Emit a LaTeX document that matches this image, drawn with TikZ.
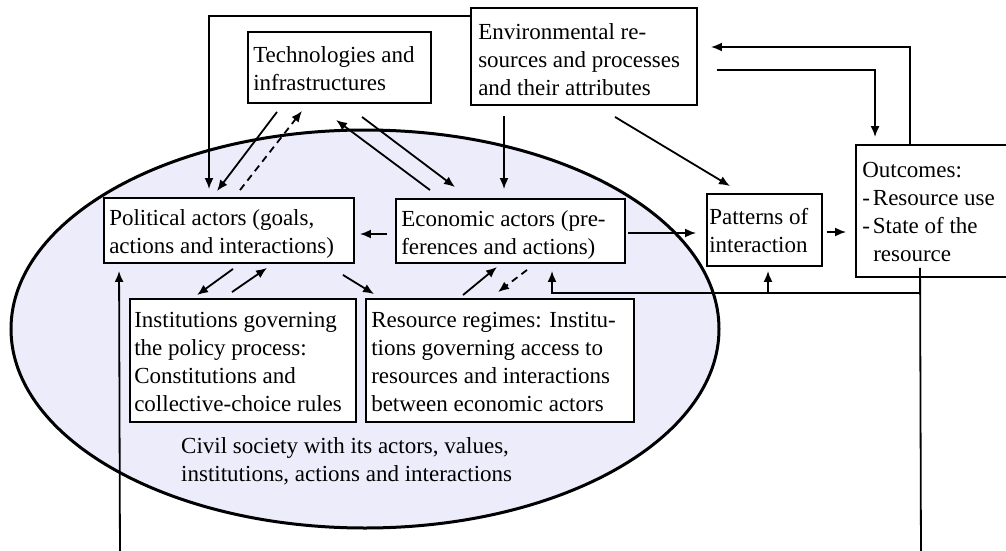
\documentclass[tikz,border=0pt]{standalone}
\usepackage{fontspec}
\setmainfont{Liberation Serif}
\usetikzlibrary{arrows.meta,calc}
\definecolor{civil}{RGB}{236,236,250}
\begin{document}
\begin{tikzpicture}[x=1pt,y=-1pt,
  box/.style={draw, line width=1.9pt, fill=white, inner sep=0pt},
  txt/.style={font=\fontsize{23}{28}\selectfont, align=left, inner sep=0pt, anchor=west},
  arr/.style={line width=1.8pt, -{Latex[length=11pt,width=9pt]}},
  ln/.style={line width=1.8pt},
  ]
\clip (0,0) rectangle (1006,551);
\draw[line width=3pt, fill=civil] (365,329) ellipse [x radius=354, y radius=199];

% boxes
\node[box, minimum width=226pt, minimum height=97pt] (env) at (584,56.5) {};
\node[txt] (env-t) at ($(env.west)+(8,3)$) {Environmental re-\\sources and processes\\and their attributes};
\node[box, minimum width=183pt, minimum height=71pt] (tech) at (339.5,67.5) {};
\node[txt] (tech-t) at ($(tech.west)+(6,1)$) {Technologies and\\infrastructures};
\node[box, minimum width=250pt, minimum height=65pt] (pol) at (229,230.5) {};
\node[txt] (pol-t) at ($(pol.west)+(6,3)$) {Political actors (goals,\\actions and interactions)};
\node[box, minimum width=229pt, minimum height=64pt] (eco) at (510.5,231) {};
\node[txt] (eco-t) at ($(eco.west)+(6,4)$) {Economic actors (pre-\\ferences and actions)};
\node[box, minimum width=115pt, minimum height=72pt] (pat) at (764.5,230) {};
\node[txt] (pat-t) at ($(pat.west)+(3,1)$) {Patterns of\\interaction};
\node[box, minimum width=159pt, minimum height=132pt] (out) at (935.5,211) {};
\node[txt] (out-t) at ($(out.west)+(7,1)$) {Outcomes:\\-\kern3pt Resource use\\-\kern3pt State of the\\\hspace*{11pt}resource};
\node[box, minimum width=226pt, minimum height=123pt] (inst) at (243,360.5) {};
\node[txt] (inst-t) at ($(inst.west)+(5,1)$) {Institutions governing\\the policy process:\\Constitutions and\\collective-choice rules};
\node[box, minimum width=268pt, minimum height=123pt] (res) at (500,360.5) {};
\node[txt] (res-t) at ($(res.west)+(6,1)$) {Resource regimes: Institu-\\tions governing access to\\resources and interactions\\between economic actors};
\node[txt] (civ) at (181,461) {Civil society with its actors, values,\\institutions, actions and interactions};

% connectors
\draw[arr] ($(env.north west)+(0,9)$) -| ($(pol.north)+(-20,-8)$);
\draw[arr] ($(tech.south)+(-62.5,8)$) -- ($(pol.north)+(-12,-6)$);
\draw[arr, dash pattern=on 7pt off 5pt] ($(pol.north)+(11,-7)$) -- ($(tech.south)+(-37.5,7)$);
\draw[arr] ($(eco.north)+(-80.5,-8)$) -- ($(tech.south)+(-3.5,16)$);
\draw[arr] ($(tech.south)+(22.5,13)$) -- ($(eco.north)+(-55.5,-11)$);
\draw[arr] ($(env.south)+(-80,10)$) coordinate (s4) -- ($(s4 |- eco.north)+(0,-9)$);
\draw[arr] ($(env.south)+(31,11)$) -- ($(pat.north)+(-34.5,-7)$);
\draw[arr] ($(out.north west)+(55,0)$) |- ($(env.east)+(13,-9.5)$);
\draw[arr] ($(env.east)+(19,13.5)$) -| ($(out.north west)+(20,-7)$);
\draw[arr] ($(eco.east)+(2,2)$) -- ($(pat.west)+(-10,3)$);
\draw[arr] ($(pat.east)+(4,2)$) -- ($(out.west)+(-9,21)$);
\draw[arr] ($(eco.west)+(-8,3)$) -- ($(pol.east)+(5,3.5)$);

% feedback
\coordinate (fbtop) at ($(out.south west)+(65,-10)$);
\coordinate (fbbot) at (921,560);
\coordinate (fbj) at (921,293);
\coordinate (fbl) at (120,560);
\draw[ln] (fbtop) -- (fbbot);
\draw[arr] (fbj) -| ($(eco.south)+(41.5,7)$);
\draw[arr] ($(fbj -| pat.south)+(3.5,0)$) -- ($(pat.south)+(3.5,4)$);
\draw[arr] (fbl) -- ($(pol.south west)+(16,7)$);

% political / institutions / resource regimes
\draw[arr] ($(pol.south)+(4,5)$) -- ($(inst.north)+(-46,-3)$);
\draw[arr] ($(inst.north)+(-11,-6)$) -- ($(pol.south)+(38,4)$);
\draw[arr] ($(pol.south east)+(-12,11)$) -- ($(res.north west)+(9,-4)$);
\draw[arr] ($(res.north)+(-37,-3)$) -- ($(eco.south)+(-13.5,3)$);
\draw[arr, dash pattern=on 7pt off 5pt] ($(eco.south)+(16.5,6)$) -- ($(res.north)+(-2,-6)$);
\end{tikzpicture}
\end{document}
